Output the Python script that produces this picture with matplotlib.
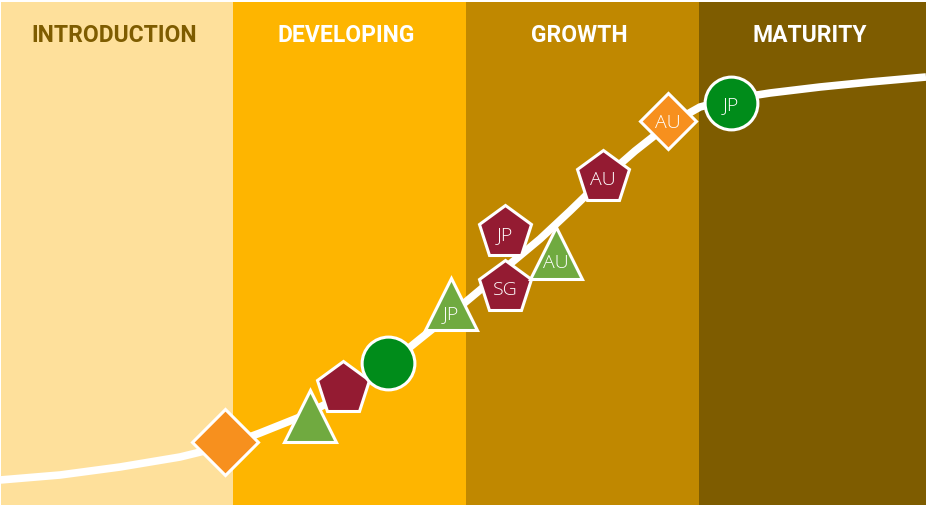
import matplotlib.pyplot as plt

# stage bands (pixel x extents) and their headers
STAGES = ["INTRODUCTION", "DEVELOPING", "GROWTH", "MATURITY"]
STAGE_EDGES = [1, 233, 466, 699, 926]
STAGE_COLORS = ["#FEE09B", "#FEB500", "#C08800", "#7E5C00"]
HEADER_COLORS = ["#7E5C00", "white", "white", "white"]

# adoption curve (x, y in pixels, y down)
CURVE_X = [0, 60, 120, 180, 225, 260, 300, 340, 388, 420, 450, 480, 510, 540,
           570, 603, 635, 668, 700, 731, 770, 820, 870, 926]
CURVE_Y = [481, 476, 468, 458, 447, 434, 418, 398, 366, 340, 316, 291, 265, 240,
           212, 180, 152, 126, 108, 100, 94, 88, 83, 78]

# markers on the curve
MARK_X = [225, 310, 343, 388, 451, 505, 505, 556, 603, 668, 731]
MARK_Y = [443, 417, 390, 364, 305, 289, 234, 254, 179, 122, 104]
MARK_SHAPE = ["D", "^", "p", "o", "^", "p", "p", "^", "p", "D", "o"]
MARK_KIND = ["orange", "green", "maroon", "dkgreen", "green", "maroon", "maroon",
             "green", "maroon", "orange", "dkgreen"]
MARK_LABEL = ["", "", "", "", "JP", "SG", "JP", "AU", "AU", "AU", "JP"]
MARK_BIG = [True, False, False, False, False, False, False, False, False, False, False]

COLORS = {"orange": "#F7901E", "green": "#70AA40", "maroon": "#941B32",
          "dkgreen": "#008C1A"}
SIZES = {"D": 29, "^": 38, "p": 40, "o": 38}

fig = plt.figure(figsize=(9.26, 5.06), dpi=100)
ax = fig.add_axes([0, 0, 1, 1])
ax.set_xlim(0, 926)
ax.set_ylim(506, 0)
ax.axis("off")

for i, name in enumerate(STAGES):
    x0, x1 = STAGE_EDGES[i], STAGE_EDGES[i + 1]
    ax.fill_between([x0, x1], 3, 506, color=STAGE_COLORS[i], lw=0, zorder=0)
    ax.text((x0 + x1) / 2 - 3, 35, name, ha="center", va="center",
            fontsize=16.5, fontweight="bold", family="Roboto",
            color=HEADER_COLORS[i], zorder=1)

ax.plot(CURVE_X, CURVE_Y, color="white", lw=5.5, solid_capstyle="butt", zorder=2)

for x, y, m, k, lab, big in zip(MARK_X, MARK_Y, MARK_SHAPE, MARK_KIND,
                                 MARK_LABEL, MARK_BIG):
    ms = 34 if big else SIZES[m]
    ax.plot([x], [y], marker=m, ms=ms, color=COLORS[k], mec="white", mew=2.2,
            zorder=3)
    if lab:
        dy = 9 if m == "^" else 1
        ax.text(x, y + dy, lab, ha="center", va="center", fontsize=14,
                fontweight="light", family="Open Sans", color="white", zorder=4)

fig.savefig("out.png", dpi=100)
